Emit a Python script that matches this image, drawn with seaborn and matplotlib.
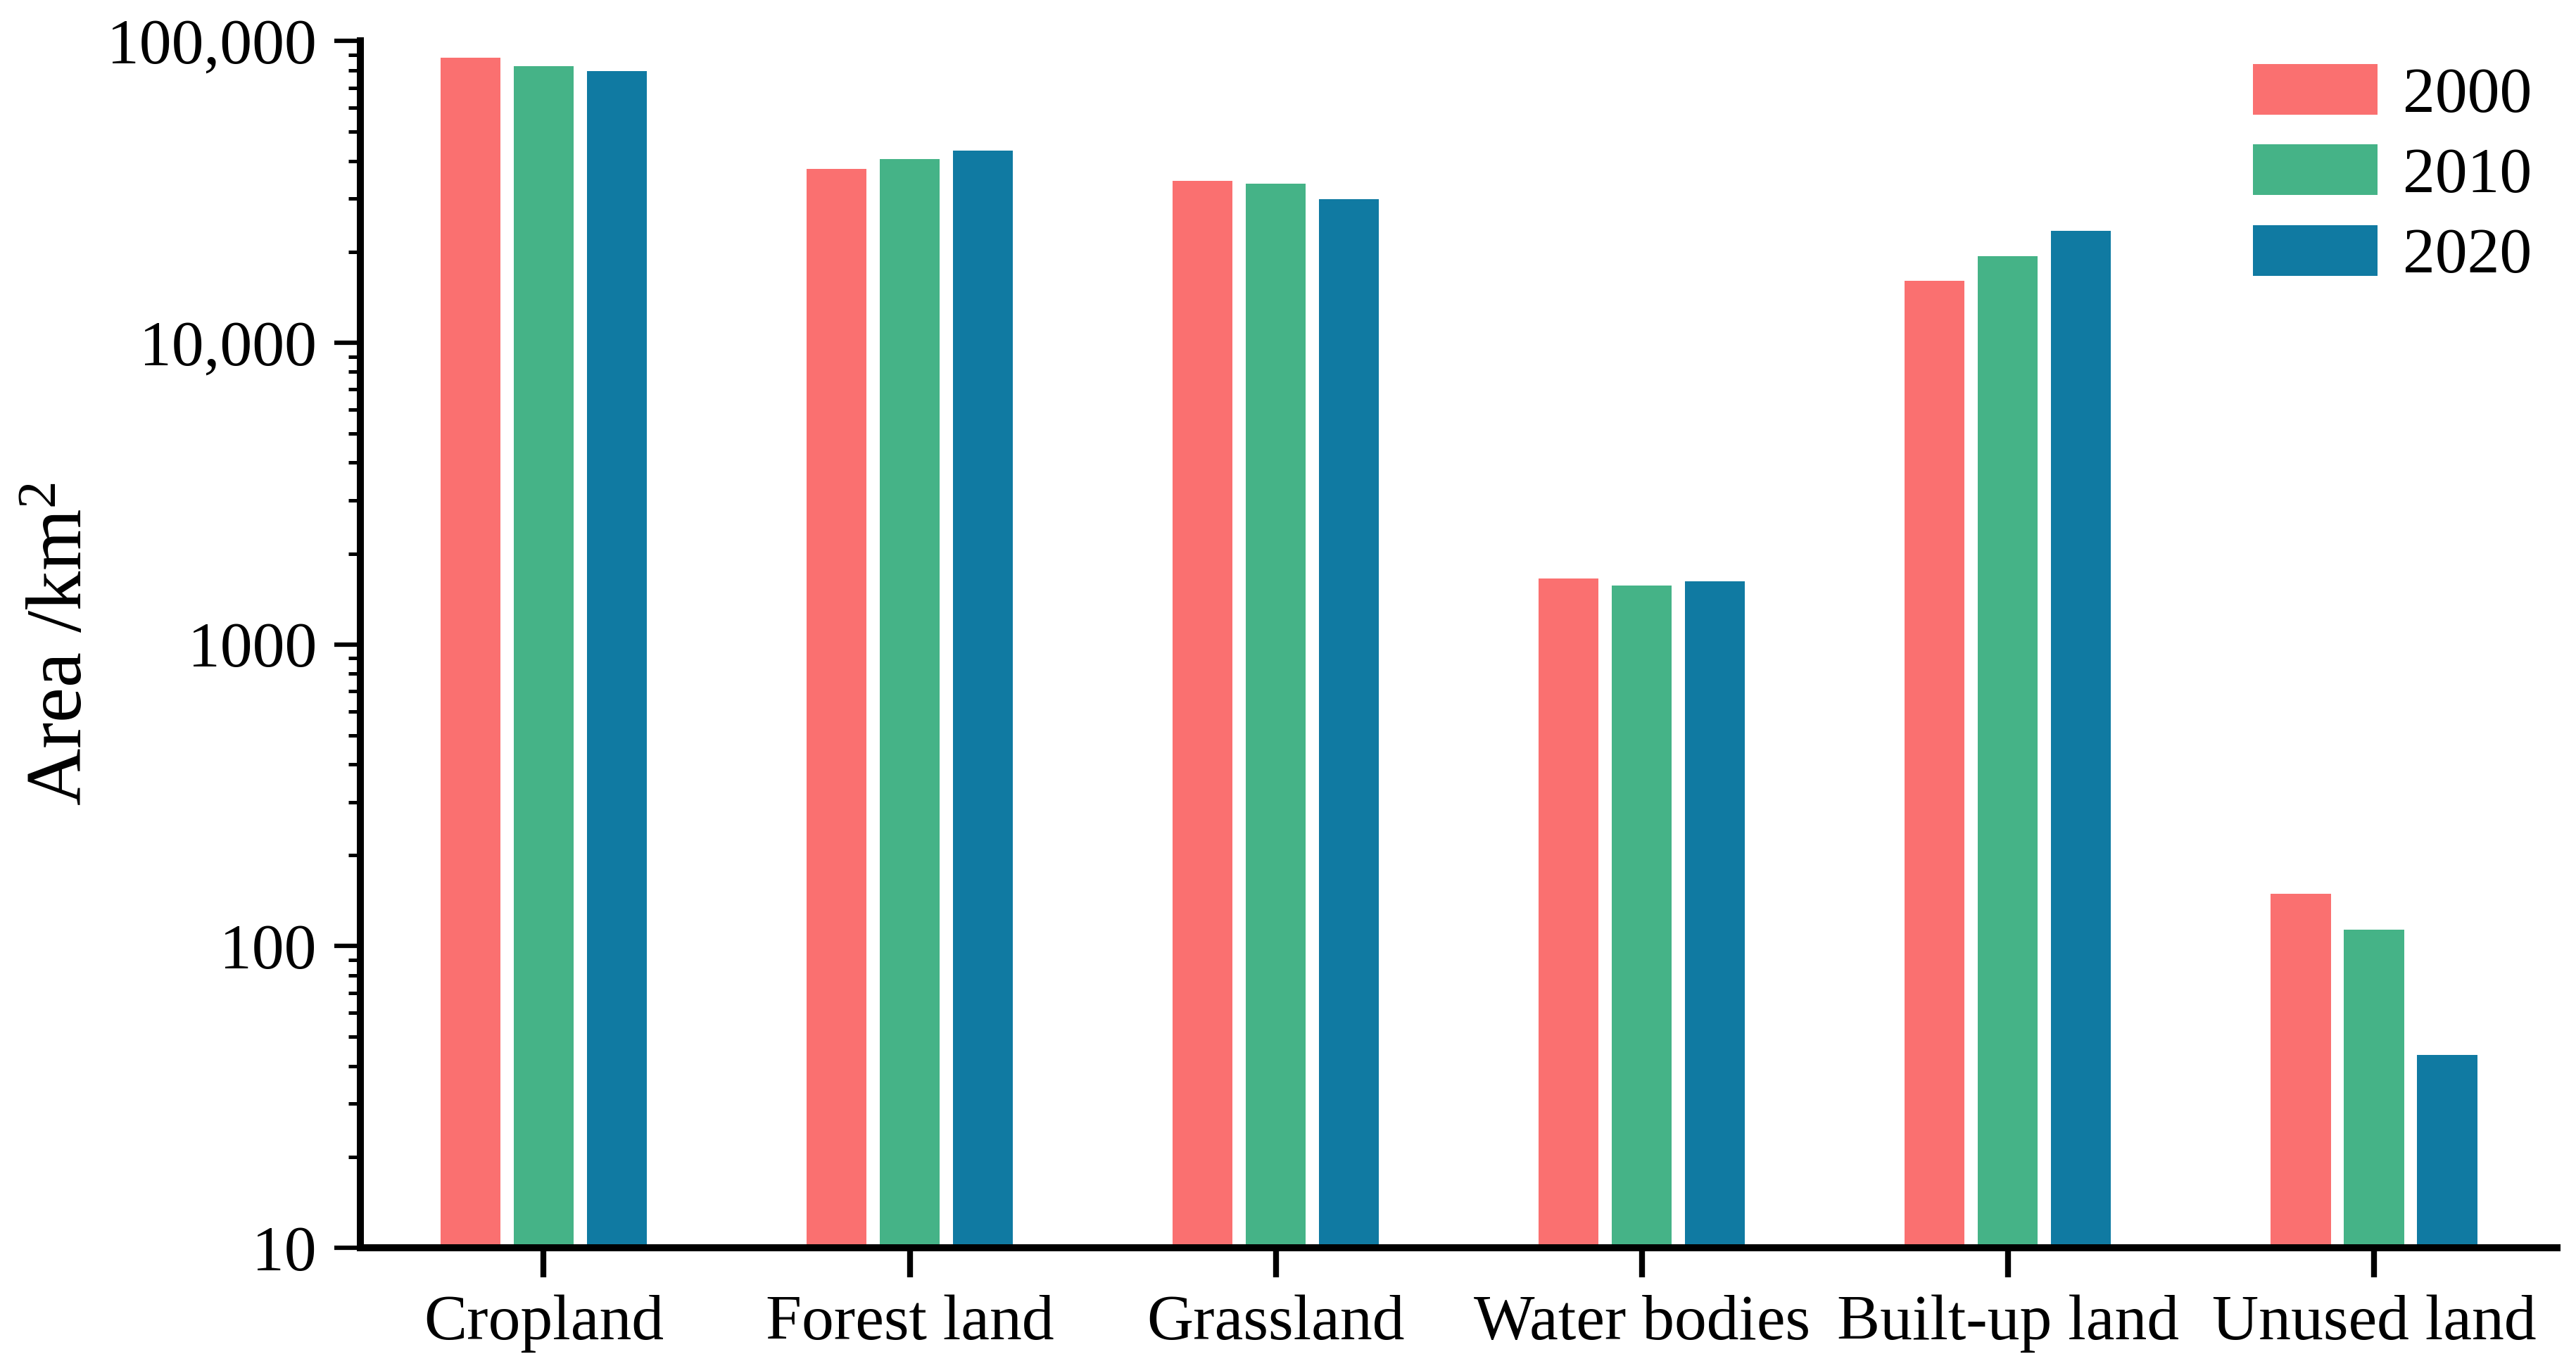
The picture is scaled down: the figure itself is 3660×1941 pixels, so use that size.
#Importing Libraries
import pandas as pd
import matplotlib
matplotlib.use("Agg")
import matplotlib.pyplot as plt
import seaborn as sns
import numpy as np

#Data (km2)
categories = ["Cropland", "Forest land", "Grassland", "Water bodies", "Built-up land", "Unused land"]
years = ["2000", "2010", "2020"]
area_2000 = [88100, 37700, 34300, 1650, 16050, 149]
area_2010 = [82400, 40600, 33600, 1565, 19400, 113]
area_2020 = [79300, 43200, 29900, 1618, 23500, 43.6]
colors = ["#FA7070", "#45B387", "#107AA2"]
ytick_vals = [10, 100, 1000, 10000, 100000]
ytick_labels = ["10", "100", "1000", "10,000", "100,000"]

df = pd.DataFrame({
    "Type": categories * 3,
    "Area": area_2000 + area_2010 + area_2020,
    "Year": [y for y in years for _ in categories],
})

#Style
sns.set_style("ticks", {"text.color": "black", "axes.labelcolor": "black",
                        "xtick.color": "black", "ytick.color": "black",
                        "axes.edgecolor": "black"})
plt.rcParams["font.family"] = ["Liberation Serif", "DejaVu Serif"]
plt.rcParams["mathtext.fontset"] = "custom"
plt.rcParams["mathtext.rm"] = "Liberation Serif"
plt.rcParams["mathtext.it"] = "Liberation Serif:italic"

fig = plt.figure(figsize=(12.2, 6.47), dpi=300)
ax = fig.add_axes([0.140, 0.0866, 0.8526, 0.8834])
ax.set_yscale("log")

#Bar chart
sns.barplot(data=df, x="Type", y="Area", hue="Year", palette=colors,
            width=0.6, gap=0.18, linewidth=0, saturation=1, ax=ax)

ax.set_xlim(-0.5, 5.5)
ax.set_ylim(10, 100000)
ax.set_yticks(ytick_vals)
ax.set_yticklabels(ytick_labels)
ax.yaxis.set_minor_locator(matplotlib.ticker.LogLocator(base=10, subs=np.arange(2, 10)))
ax.yaxis.set_minor_formatter(matplotlib.ticker.NullFormatter())

ax.set_xlabel("")
ax.set_ylabel("Area /km$^2$", fontsize=27, labelpad=3, color="black")

for s in ["top", "right"]:
    ax.spines[s].set_visible(False)
ax.spines["left"].set_linewidth(2.4)
ax.spines["bottom"].set_linewidth(2.4)

ax.tick_params(axis="y", which="major", length=9, width=1.5, labelsize=22, pad=6,
               color="black", labelcolor="black")
ax.tick_params(axis="y", which="minor", length=4, width=1.2, color="black")
ax.tick_params(axis="x", which="major", length=10, width=2, labelsize=22, pad=6,
               color="black", labelcolor="black")

handles, labels = ax.get_legend_handles_labels()
leg = ax.legend(handles, labels, loc="upper right", bbox_to_anchor=(0.983, 0.953),
                bbox_transform=fig.transFigure, frameon=False, fontsize=22,
                handlelength=1.93, handleheight=0.83, handletextpad=0.4,
                labelspacing=0.3, borderpad=0, borderaxespad=0)
for t in leg.get_texts():
    t.set_color("black")

plt.savefig("out.png", dpi=300)
